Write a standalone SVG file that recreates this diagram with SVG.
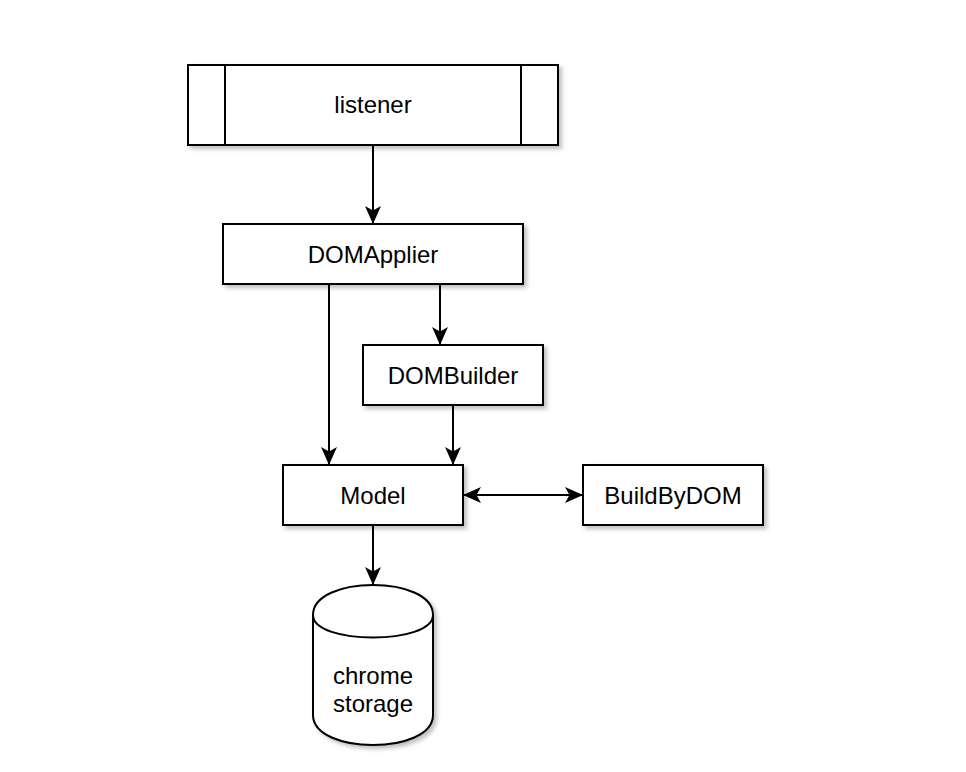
<svg xmlns="http://www.w3.org/2000/svg" width="966" height="772" viewBox="0 0 966 772">
<style>
.n{fill:#fff;stroke:#000;stroke-width:2;filter:url(#sh)}
.l{fill:none;stroke:#000;stroke-width:2}
.e{fill:none;stroke:#000;stroke-width:2}
text{font-family:"Liberation Sans",Arial,Helvetica,sans-serif;font-size:24px;fill:#000;text-anchor:middle}
</style>
<defs>
<filter id="sh" x="-10%" y="-10%" width="125%" height="130%">
<feDropShadow dx="3" dy="3" stdDeviation="2" flood-color="#000" flood-opacity="0.25"/>
</filter>
<marker id="ah" markerUnits="userSpaceOnUse" markerWidth="18" markerHeight="16" refX="18" refY="8" orient="auto-start-reverse" viewBox="0 0 18 16">
<path d="M0,0 L18,8 L0,16 L4.5,8 Z" fill="#000"/>
</marker>
</defs>
<rect width="966" height="772" fill="#fff"/>
<g id="connectors">
<line class="e" x1="373" y1="145" x2="373" y2="224" marker-end="url(#ah)"/>
<line class="e" x1="329" y1="284" x2="329" y2="465" marker-end="url(#ah)"/>
<line class="e" x1="440" y1="284" x2="440" y2="345" marker-end="url(#ah)"/>
<line class="e" x1="453" y1="405" x2="453" y2="465" marker-end="url(#ah)"/>
<line class="e" x1="463" y1="495" x2="583" y2="495" marker-start="url(#ah)" marker-end="url(#ah)"/>
<line class="e" x1="373" y1="525" x2="373" y2="585" marker-end="url(#ah)"/>
</g>
<g id="listener">
<rect class="n" x="188" y="65" width="370" height="80"/>
<line class="l" x1="225" y1="65" x2="225" y2="145"/>
<line class="l" x1="521" y1="65" x2="521" y2="145"/>
<text x="373" y="113">listener</text>
</g>
<g id="DOMApplier">
<rect class="n" x="223" y="224" width="300" height="60"/>
<text x="373" y="263">DOMApplier</text>
</g>
<g id="DOMBuilder">
<rect class="n" x="363" y="345" width="180" height="60"/>
<text x="453" y="384">DOMBuilder</text>
</g>
<g id="Model">
<rect class="n" x="283" y="465" width="180" height="60"/>
<text x="373" y="504">Model</text>
</g>
<g id="BuildByDOM">
<rect class="n" x="583" y="465" width="180" height="60"/>
<text x="673" y="504">BuildByDOM</text>
</g>
<g id="chrome-storage">
<path class="n" d="M313,615 C313,575 433,575 433,615 L433,715 C433,755 313,755 313,715 Z"/>
<path class="l" d="M313,615 C313,645 433,645 433,615"/>
<text x="373" y="684">chrome</text>
<text x="373" y="712">storage</text>
</g>
</svg>
